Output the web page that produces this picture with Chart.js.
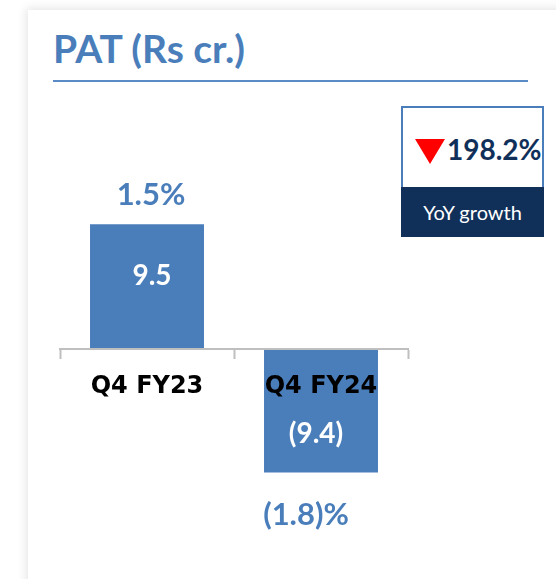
<!DOCTYPE html>
<html>
<head>
<meta charset="utf-8">
<script src="https://cdn.jsdelivr.net/npm/chart.js@4/dist/chart.umd.min.js"></script>
<style>
  html, body { margin: 0; padding: 0; background: #ffffff; width: 556px; height: 579px; overflow: hidden; }
  #card { position: absolute; left: 28px; top: 10px; width: 620px; height: 700px; background: #fff;
          box-shadow: 0 0 9px 2px rgba(0,0,0,0.10); }
  #title { position: absolute; left: 53px; top: 29px; font: 700 39px/39px Lato, sans-serif; color: #4a7ebb; white-space: nowrap; }
  #rule { position: absolute; left: 53px; top: 80px; width: 475px; height: 2px; background: #5b8bc7; }
  #yoy { position: absolute; left: 401px; top: 106px; width: 143px; height: 131px; }
  #yoyTop { position: absolute; left: 0; top: 0; width: 139px; height: 79px; border: 2px solid #4a7ebb; border-bottom: none; background: #fff; }
  #tri { position: absolute; left: 12px; top: 31px; width: 0; height: 0; border-left: 15px solid transparent; border-right: 15px solid transparent; border-top: 25px solid #ff0000; }
  #yoyVal { position: absolute; left: 44px; top: 27px; font: 700 28px/28px Lato, sans-serif; color: #10305a; white-space: nowrap; }
  #yoyBot { position: absolute; left: 0; top: 81px; width: 143px; height: 50px; background: #10305a; color: #fff;
            font: 400 20px/50px Lato, sans-serif; text-align: center; }
  #c { position: absolute; left: 0; top: 0; }
</style>
</head>
<body>
<div id="card"></div>
<div id="title">PAT (Rs cr.)</div>
<div id="rule"></div>
<div id="yoy">
  <div id="yoyTop"><div id="tri"></div><div id="yoyVal">198.2%</div></div>
  <div id="yoyBot">YoY growth</div>
</div>
<canvas id="c" width="556" height="579"></canvas>
<script>
const categories = ["Q4 FY23", "Q4 FY24"];
const patValues = [9.5, -9.4];
const patMarginPct = [1.5, -1.8];

function fmtNum(v) { return v < 0 ? "(" + Math.abs(v).toFixed(1) + ")" : v.toFixed(1); }
function fmtPct(v) { return v < 0 ? "(" + Math.abs(v).toFixed(1) + ")%" : v.toFixed(1) + "%"; }

const barLabels = {
  id: "barLabels",
  afterDatasetsDraw(chart) {
    const ctx = chart.ctx;
    const meta = chart.getDatasetMeta(0);
    ctx.save();
    ctx.textAlign = "center";
    ctx.textBaseline = "alphabetic";
    meta.data.forEach((bar, i) => {
      const v = patValues[i];
      const p = bar.getProps(["x", "y", "base"], true);
      ctx.fillStyle = "#ffffff";
      ctx.font = "700 28px Lato, sans-serif";
      if (v >= 0) ctx.fillText(fmtNum(v), p.x + 5, p.y + 61);
      else ctx.fillText(fmtNum(v), p.x - 5, p.y - 29);
      ctx.fillStyle = "#4a7ebb";
      ctx.font = "700 31px Lato, sans-serif";
      if (v >= 0) ctx.fillText(fmtPct(patMarginPct[i]), p.x + 4, p.y - 19);
      else ctx.fillText(fmtPct(patMarginPct[i]), p.x - 15, p.y + 53);
    });
    ctx.restore();
  }
};

new Chart(document.getElementById("c"), {
  type: "bar",
  data: {
    labels: categories,
    datasets: [{
      data: patValues,
      backgroundColor: "#4a7ebb",
      borderWidth: 0,
      categoryPercentage: 1,
      barPercentage: 0.655
    }]
  },
  options: {
    responsive: false,
    animation: false,
    events: [],
    layout: { padding: { left: 60, right: 148, top: 100, bottom: 79 } },
    plugins: { legend: { display: false }, tooltip: { enabled: false }, title: { display: false } },
    scales: {
      y: { display: false, min: -11.5, max: 18.96 },
      x: {
        position: { y: 0 },
        offset: true,
        border: { display: true, color: "#bfbfbf", width: 2, z: 1 },
        grid: { offset: true, drawOnChartArea: false, drawTicks: true, tickLength: 9, tickWidth: 2, tickColor: "#bfbfbf", z: 1 },
        ticks: { z: 1, color: "#000000", padding: 14, autoSkip: false, maxRotation: 0,
                 font: { family: "DejaVu Sans", weight: "bold", size: 24 } }
      }
    }
  },
  plugins: [barLabels]
});
</script>
</body>
</html>
